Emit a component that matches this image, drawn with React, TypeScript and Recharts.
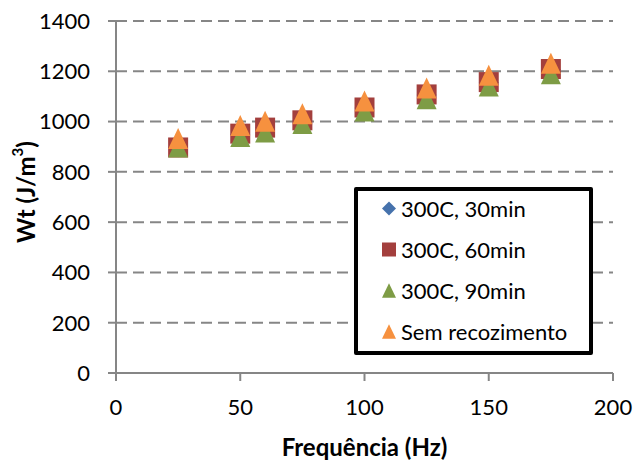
import { ScatterChart, Scatter, XAxis, YAxis, CartesianGrid, Legend } from 'recharts';

// Energy loss per cycle vs. excitation frequency, for each annealing condition.

const frequencies = [25, 50, 60, 75, 100, 125, 150, 175];
const wt30min = [898, 950, 975, 1003, 1054, 1106, 1155, 1207];
const wt60min = [897, 952, 976, 1005, 1056, 1108, 1157, 1209];
const wt90min = [899, 941, 959, 992, 1042, 1091, 1141, 1190];
const wtSemRecozimento = [933, 984, 1001, 1031, 1082, 1134, 1184, 1232];

const xTicks = [0, 50, 100, 150, 200];
const yTicks = [0, 200, 400, 600, 800, 1000, 1200, 1400];

type MarkerKind = 'diamond' | 'square' | 'triangle';

const SERIES: { name: string; values: number[]; color: string; marker: MarkerKind }[] = [
  { name: '300C, 30min', values: wt30min, color: '#4672AC', marker: 'diamond' },
  { name: '300C, 60min', values: wt60min, color: '#A33F3D', marker: 'square' },
  { name: '300C, 90min', values: wt90min, color: '#7E9C45', marker: 'triangle' },
  { name: 'Sem recozimento', values: wtSemRecozimento, color: '#F6913F', marker: 'triangle' },
];

const FONT = 'Lato, "Open Sans", sans-serif';
const AXIS_GRAY = '#868686';

function Marker({ kind, cx, cy, size, color }: { kind: MarkerKind; cx: number; cy: number; size: number; color: string }) {
  const h = size / 2;
  if (kind === 'square') {
    return <rect x={cx - h} y={cy - h} width={size} height={size} fill={color} />;
  }
  if (kind === 'diamond') {
    return <polygon points={`${cx},${cy - h} ${cx + h},${cy} ${cx},${cy + h} ${cx - h},${cy}`} fill={color} />;
  }
  const th = size * 1.05;
  return (
    <polygon
      points={`${cx},${cy - th / 2} ${cx + h},${cy + th / 2} ${cx - h},${cy + th / 2}`}
      fill={color}
    />
  );
}

// eslint-disable-next-line @typescript-eslint/no-explicit-any
function YTitle(props: any) {
  const vb = props.viewBox ?? { x: 0, y: 21, width: 116, height: 352 };
  const cx = vb.x + 25;
  const cy = vb.y + vb.height / 2 - 5;
  return (
    <text
      x={cx}
      y={cy}
      transform={`rotate(-90, ${cx}, ${cy})`}
      textAnchor="middle"
      dominantBaseline="central"
      fontFamily={FONT}
      fontWeight="bold"
      fontSize={24}
      fill="#000"
    >
      Wt (J/m
      <tspan dy={-8} fontSize={15}>
        3
      </tspan>
      <tspan dy={8}>)</tspan>
    </text>
  );
}

function LegendBox() {
  return (
    <div
      style={{
        width: 239,
        height: 168,
        boxSizing: 'border-box',
        border: '4px solid #000',
        borderRadius: 2,
        background: '#fff',
        fontFamily: FONT,
        fontSize: 22,
        color: '#000',
      }}
    >
      <div style={{ position: 'relative', top: -3 }}>
        {SERIES.map((s) => (
          <div key={s.name} style={{ display: 'flex', alignItems: 'center', height: 41 }}>
            <svg width={14} height={15} style={{ marginLeft: 24, marginRight: 5, flex: 'none' }}>
              <Marker kind={s.marker} cx={7} cy={7.5} size={14} color={s.color} />
            </svg>
            <span style={{ whiteSpace: 'nowrap', lineHeight: '41px' }}>{s.name}</span>
          </div>
        ))}
      </div>
    </div>
  );
}

export default function App() {
  const tick = { fill: '#000', fontSize: 22, fontFamily: FONT };
  return (
    <div style={{ position: 'absolute', left: 0, top: 0, background: '#fff' }}>
      <ScatterChart width={635} height={461} margin={{ top: 21, right: 22, bottom: 0, left: 0 }}>
        <CartesianGrid
          vertical={false}
          stroke={AXIS_GRAY}
          strokeWidth={2}
          strokeDasharray="11 6"
        />
        <XAxis
          type="number"
          dataKey="f"
          domain={[0, 200]}
          ticks={xTicks}
          height={88}
          tick={tick}
          tickSize={8}
          tickMargin={18}
          axisLine={{ stroke: AXIS_GRAY, strokeWidth: 2 }}
          tickLine={{ stroke: AXIS_GRAY, strokeWidth: 2 }}
          label={{
            value: 'Frequência (Hz)',
            position: 'insideBottom',
            offset: 5,
            fill: '#000',
            fontSize: 24,
            fontWeight: 'bold',
            fontFamily: FONT,
          }}
        />
        <YAxis
          type="number"
          dataKey="wt"
          domain={[0, 1400]}
          ticks={yTicks}
          width={116}
          tick={tick}
          tickSize={8}
          tickMargin={18}
          axisLine={{ stroke: AXIS_GRAY, strokeWidth: 2 }}
          tickLine={{ stroke: AXIS_GRAY, strokeWidth: 2 }}
          label={{ content: YTitle }}
        />
        <Legend
          layout="vertical"
          align="center"
          verticalAlign="middle"
          content={() => <LegendBox />}
          wrapperStyle={{ left: 354, top: 187, width: 239, height: 168 }}
        />
        {SERIES.map((s) => (
          <Scatter
            key={s.name}
            name={s.name}
            data={frequencies.map((f, i) => ({ f, wt: s.values[i] }))}
            fill={s.color}
            isAnimationActive={false}
            // eslint-disable-next-line @typescript-eslint/no-explicit-any
            shape={(p: any) => <Marker kind={s.marker} cx={p.cx} cy={p.cy} size={20} color={s.color} />}
          />
        ))}
      </ScatterChart>
    </div>
  );
}
